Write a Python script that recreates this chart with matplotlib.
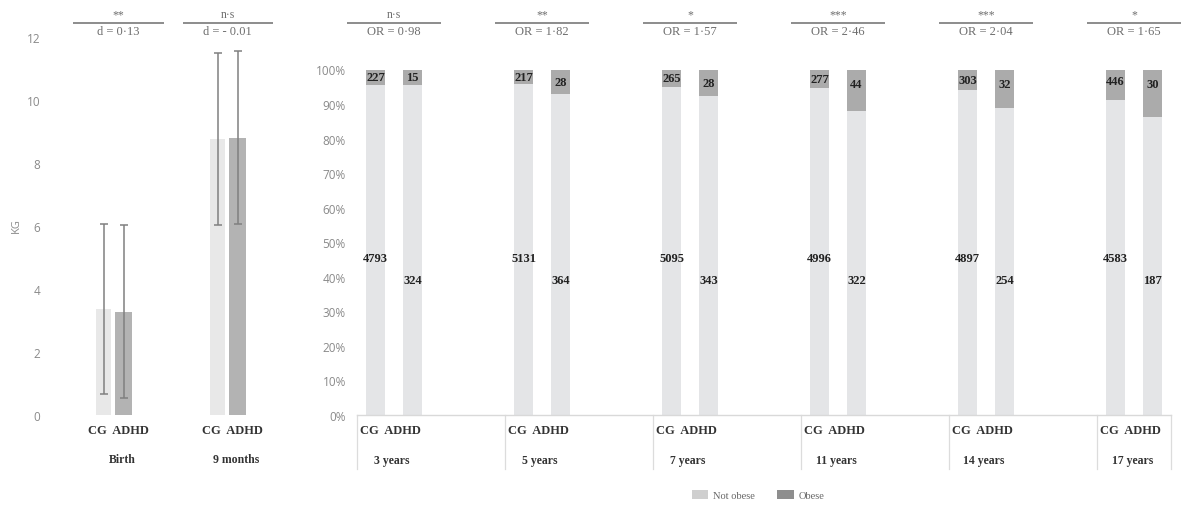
import matplotlib
matplotlib.use("Agg")
import matplotlib.pyplot as plt
import matplotlib.transforms as mtransforms
from matplotlib.patches import Patch
import numpy as np

# ---------------- data ----------------
# left panel: weight (kg)
wt_periods = ["Birth", "9 months"]
wt_cg_mean = [3.37, 8.76]
wt_cg_sd = [2.70, 2.72]
wt_adhd_mean = [3.28, 8.80]
wt_adhd_sd = [2.75, 2.75]
wt_sig = ["**", "n·s"]
wt_effect = ["d = 0·13", "d = - 0.01"]

# right panel: obesity counts
ages = ["3 years", "5 years", "7 years", "11 years", "14 years", "17 years"]
cg_not_obese = [4793, 5131, 5095, 4996, 4897, 4583]
cg_obese = [227, 217, 265, 277, 303, 446]
adhd_not_obese = [324, 364, 343, 322, 254, 187]
adhd_obese = [15, 28, 28, 44, 32, 30]
ob_sig = ["n·s", "**", "*", "***", "***", "*"]
ob_or = ["OR = 0·98", "OR = 1·82", "OR = 1·57", "OR = 2·46", "OR = 2·04", "OR = 1·65"]

left_yticks = [0, 2, 4, 6, 8, 10, 12]
right_yticks = [0, 10, 20, 30, 40, 50, 60, 70, 80, 90, 100]

# ---------------- style ----------------
W, H = 1182, 506
fig = plt.figure(figsize=(W / 100, H / 100), dpi=100)
SERIF = "Liberation Serif"
SANS = "Open Sans"
TICK_COL = "#8a8a8a"
ANN_COL = "#6e6e6e"
LIGHT = "#e4e5e7"
DARK = "#ababab"
LEFT_LIGHT = "#e8e8e8"
LEFT_DARK = "#b3b3b3"


def fx(px):
    return px / W


def fy(py):
    return 1 - py / H


# ---------------- left panel ----------------
axL = fig.add_axes([fx(60), fy(416), fx(220), fy(38) - fy(416)])
xlim_L = (-2.175, 8.825)
axL.set_xlim(*xlim_L)
axL.set_ylim(0, 12)
grp_pos_L = np.array([0.0, 5.7])
cg_x = grp_pos_L
adhd_x = grp_pos_L + 1.0
axL.bar(cg_x, wt_cg_mean, width=0.78, color=LEFT_LIGHT, zorder=2)
axL.bar(adhd_x, wt_adhd_mean, width=0.82, color=LEFT_DARK, zorder=2)
axL.errorbar(cg_x, wt_cg_mean, yerr=wt_cg_sd, fmt="none", ecolor="#808080",
             elinewidth=1.1, capsize=3, capthick=1.1, zorder=3)
axL.errorbar(adhd_x, wt_adhd_mean, yerr=wt_adhd_sd, fmt="none", ecolor="#808080",
             elinewidth=1.1, capsize=3, capthick=1.1, zorder=3)
axL.set_yticks(left_yticks)
axL.set_yticklabels([str(t) for t in left_yticks], fontfamily=SANS, fontsize=8.5,
                    color=TICK_COL)
axL.tick_params(axis="y", length=0, pad=14)
axL.set_xticks([])
for s in axL.spines.values():
    s.set_visible(False)
fig.text(fx(16), fy(226), "KG", rotation=90, ha="center", va="center",
         fontfamily=SANS, fontsize=8, color=TICK_COL)

trL = mtransforms.blended_transform_factory(axL.transData, fig.transFigure)
for i, p in enumerate(wt_periods):
    c = grp_pos_L[i] + 0.5
    off = 0.25 if i == 0 else 0.0
    axL.text(c + 0.25, fy(431), "CG  ADHD", transform=trL, ha="center", va="center",
             fontfamily=SERIF, fontweight="bold", fontsize=9, color="#333333")
    axL.text(c + 0.45, fy(460), p, transform=trL, ha="center", va="center",
             fontfamily=SERIF, fontweight="bold", fontsize=8.5, color="#333333")
    axL.text(c + off, fy(15), wt_sig[i], transform=trL, ha="center", va="center",
             fontfamily=SERIF, fontsize=8.5, color=ANN_COL)
    axL.plot([c + off - 2.25, c + off + 2.25], [fy(23.5), fy(23.5)], transform=trL,
             color="#8c8c8c", lw=1.4, clip_on=False, solid_capstyle="butt")
    axL.text(c + off, fy(32), wt_effect[i], transform=trL, ha="center", va="center",
             fontfamily=SERIF, fontsize=9, color=ANN_COL)

# ---------------- right panel ----------------
axR = fig.add_axes([fx(357), fy(416), fx(1171 - 357), fy(70.5) - fy(416)])
n_slots = 22
axR.set_xlim(-0.5, n_slots - 0.5)
axR.set_ylim(0, 1)
grp_start = np.arange(len(ages)) * 4
cg_pos = grp_start + 0.0
adhd_pos = grp_start + 1.0

cg_tot = np.array(cg_not_obese) + np.array(cg_obese)
ad_tot = np.array(adhd_not_obese) + np.array(adhd_obese)
cg_not_f = np.array(cg_not_obese) / cg_tot
cg_ob_f = np.array(cg_obese) / cg_tot
ad_not_f = np.array(adhd_not_obese) / ad_tot
ad_ob_f = np.array(adhd_obese) / ad_tot

bw = 0.54
axR.bar(cg_pos, cg_not_f, width=bw, color=LIGHT, zorder=2)
axR.bar(cg_pos, cg_ob_f, bottom=cg_not_f, width=bw, color=DARK, zorder=2)
axR.bar(adhd_pos, ad_not_f, width=bw, color=LIGHT, zorder=2)
axR.bar(adhd_pos, ad_ob_f, bottom=ad_not_f, width=bw, color=DARK, zorder=2)

axR.set_yticks([t / 100 for t in right_yticks])
axR.set_yticklabels([f"{t}%" for t in right_yticks], fontfamily=SANS, fontsize=8.5,
                    color=TICK_COL)
axR.tick_params(axis="y", length=0, pad=8)
axR.set_xticks([])
for k in ["top", "right", "left"]:
    axR.spines[k].set_visible(False)
axR.spines["bottom"].set_color("#d9d9d9")
axR.spines["bottom"].set_linewidth(1.0)

lab_kw = dict(ha="center", va="center", fontfamily=SERIF, fontweight="bold",
              fontsize=9, color="#222222", zorder=4)
for i in range(len(ages)):
    axR.text(cg_pos[i], 0.455, str(cg_not_obese[i]), **lab_kw)
    axR.text(adhd_pos[i], 0.39, str(adhd_not_obese[i]), **lab_kw)
    axR.text(cg_pos[i], 1 - min(cg_ob_f[i] / 2, 0.034), str(cg_obese[i]), **lab_kw)
    axR.text(adhd_pos[i], 1 - min(ad_ob_f[i] / 2, 0.042), str(adhd_obese[i]), **lab_kw)

trR = mtransforms.blended_transform_factory(axR.transData, fig.transFigure)
# group separators below the axis
bounds = list(grp_start - 0.5) + [n_slots - 0.5]
for b in bounds:
    axR.plot([b, b], [fy(416), fy(470)], transform=trR, color="#dcdcdc", lw=0.9,
             clip_on=False)
for i, a in enumerate(ages):
    c = grp_start[i] + 0.5
    axR.text(c - 0.1, fy(431), "CG  ADHD", transform=trR, ha="center", va="center",
             fontfamily=SERIF, fontweight="bold", fontsize=9, color="#333333")
    axR.text(c - 0.05, fy(461), a, transform=trR, ha="center", va="center",
             fontfamily=SERIF, fontweight="bold", fontsize=8.5, color="#333333")
    axR.text(c, fy(15), ob_sig[i], transform=trR, ha="center", va="center",
             fontfamily=SERIF, fontsize=8.5, color=ANN_COL)
    axR.plot([c - 1.28, c + 1.28], [fy(23.5), fy(23.5)], transform=trR,
             color="#8c8c8c", lw=1.4, clip_on=False, solid_capstyle="butt")
    axR.text(c, fy(32), ob_or[i], transform=trR, ha="center", va="center",
             fontfamily=SERIF, fontsize=9, color=ANN_COL)

# ---------------- legend ----------------
handles = [Patch(facecolor="#cfcfcf", edgecolor="none", label="Not obese"),
           Patch(facecolor="#8e8e8e", edgecolor="none", label="Obese")]
fig.legend(handles=handles, loc="center", bbox_to_anchor=(fx(758), fy(496)), ncol=2,
           frameon=False, prop={"family": SERIF, "size": 7.5}, labelcolor="#666666",
           handlelength=1.6, handleheight=0.9, handletextpad=0.4, columnspacing=2.2)

fig.savefig("out.png", dpi=100)
